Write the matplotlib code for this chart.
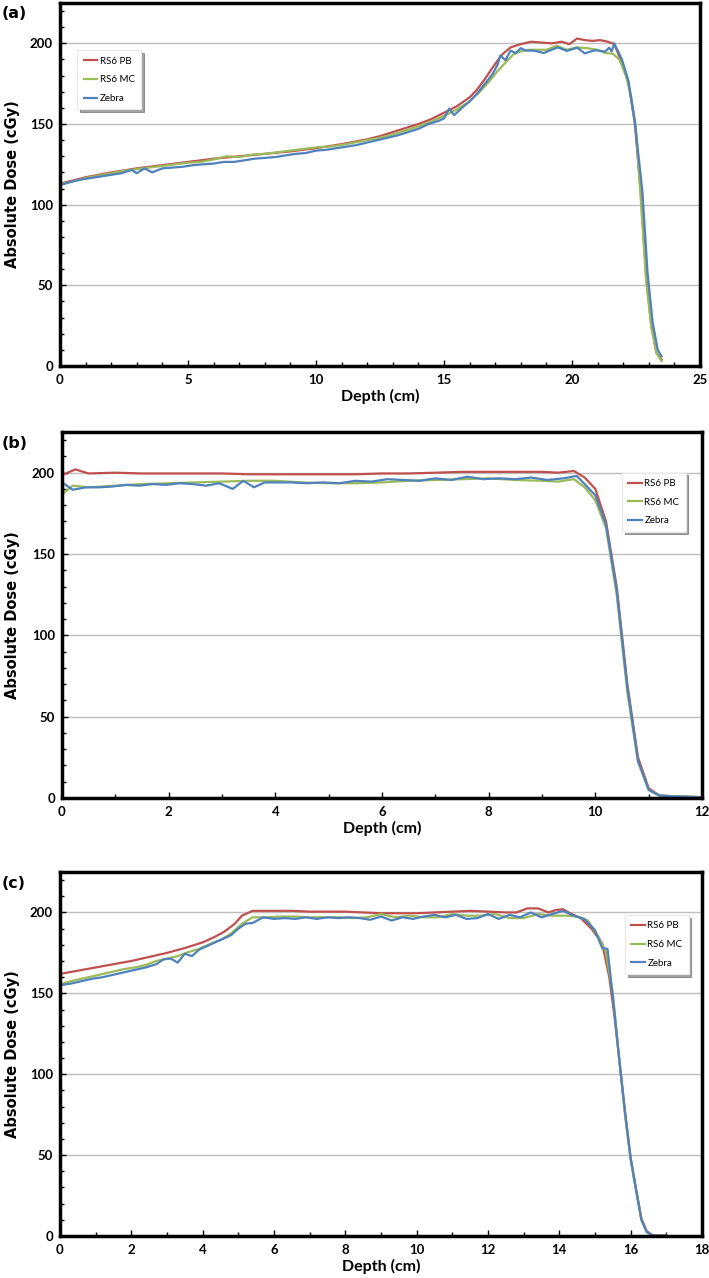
import matplotlib.pyplot as plt
from matplotlib.ticker import MultipleLocator

# ---- data: panel (a) ----
a_pb_x = [0, 1, 2, 3, 4, 5, 6, 7, 8, 9, 10, 11, 12, 12.5, 13, 13.5, 14, 14.5, 15, 15.5, 16, 16.3, 16.6, 16.9,
          17.1, 17.3, 17.6, 18.0, 18.4, 18.8, 19.2, 19.6, 19.9, 20.2, 20.5, 20.8, 21.1, 21.4, 21.65, 21.95,
          22.2, 22.45, 22.7, 22.9, 23.1, 23.3, 23.5]
a_pb_y = [113, 117, 120, 122.5, 124.5, 126.5, 128.5, 130, 131.5, 133, 135, 137.5, 140.5, 142.5, 145, 147.5,
          150, 153, 157, 161, 166.5, 171.5, 178, 185, 189.5, 193.5, 197.5, 199.5, 201, 200.5, 200, 201,
          199.5, 203, 202, 201.5, 202, 201, 199.5, 188, 176, 151, 105, 55, 25, 8, 4]
a_mc_x = [0, 0.5, 1, 1.5, 2, 2.5, 3, 3.5, 4, 4.5, 5, 5.5, 6, 6.5, 7, 7.5, 8, 8.5, 9, 9.5, 10, 10.5, 11, 11.5,
          12, 12.5, 13, 13.5, 14, 14.5, 15, 15.5, 16, 16.4, 16.8, 17.1, 17.4, 17.7, 18.0, 18.3, 18.7, 19.0,
          19.4, 19.8, 20.2, 20.6, 21.0, 21.3, 21.6, 21.85, 22.1, 22.3, 22.5, 22.7, 22.9, 23.1, 23.3, 23.5]
a_mc_y = [112.5, 114.5, 116.5, 118, 119.5, 121, 122, 123, 124, 125, 126, 126.5, 128, 130, 129.5, 131, 131.5,
          132.5, 133.5, 134.5, 135.5, 136, 137, 138.5, 140, 141.5, 143.5, 146, 148.5, 151.5, 155, 159, 164,
          170, 177, 183, 188, 193, 195, 196, 196, 196, 198.5, 196, 197.5, 197, 196, 194, 193.5, 190, 180,
          168, 147, 100, 52, 24, 8, 3]
a_zb_x = [0, 0.4, 0.8, 1.2, 1.6, 2.0, 2.4, 2.8, 3.0, 3.3, 3.6, 4.0, 4.4, 4.8, 5.2, 5.6, 6.0, 6.4, 6.8, 7.2,
          7.6, 8.0, 8.4, 8.8, 9.2, 9.6, 10.0, 10.4, 10.8, 11.2, 11.6, 12.0, 12.4, 12.8, 13.2, 13.6, 14.0,
          14.4, 14.8, 15.0, 15.2, 15.4, 15.7, 16.0, 16.3, 16.6, 16.9, 17.1, 17.2, 17.4, 17.6, 17.8, 18.0,
          18.2, 18.5, 18.9, 19.2, 19.45, 19.8, 20.2, 20.5, 20.9, 21.3, 21.45, 21.55, 21.65, 21.95, 22.2,
          22.45, 22.75, 22.95, 23.15, 23.35, 23.5]
a_zb_y = [112, 114, 115.5, 116.5, 117.5, 118.5, 119.5, 121.5, 119.5, 122.5, 120, 122.5, 123, 123.5, 124.5,
          125, 125.5, 126.5, 126.5, 127.5, 128.5, 129, 129.5, 130.5, 131.5, 132, 133.5, 134, 135, 136, 137,
          138.5, 140, 141.5, 143, 145, 147, 150, 152, 153.5, 159.5, 155.5, 160, 164, 169, 175, 181, 187,
          192.5, 189.5, 195.5, 194, 197, 195.5, 195.5, 194, 196, 197.5, 195.3, 197.3, 193.8, 195.7, 194.9,
          197.3, 195, 200, 190, 177, 152, 108, 58, 27, 10, 6]

# ---- data: panel (b) ----
b_pb_x = [0, 0.25, 0.5, 1, 1.5, 2, 2.5, 3, 3.5, 4, 4.5, 5, 5.5, 6, 6.5, 7, 7.5, 8, 8.5, 9, 9.3, 9.6, 9.8,
          10.0, 10.2, 10.4, 10.6, 10.8, 11.0, 11.2, 11.5, 12]
b_pb_y = [198.5, 202, 199.5, 200, 199.5, 199.5, 199.5, 199.5, 199, 199, 199, 199, 199, 199.5, 199.5, 200,
          200.5, 200.5, 200.5, 200.5, 200, 201, 197, 190, 170, 130, 70, 25, 6, 1.5, 1, 0.5]
b_mc_x = [0, 0.2, 0.5, 1, 1.5, 2, 2.5, 3, 3.5, 4, 4.5, 5, 5.5, 6, 6.5, 7, 7.5, 8, 8.5, 9, 9.3, 9.6, 9.8,
          10.0, 10.2, 10.4, 10.6, 10.8, 11.0, 11.2, 11.5, 12]
b_mc_y = [186.5, 192, 191, 192, 193, 193.5, 194, 194.5, 195, 195, 194, 193.5, 193.5, 194, 195, 195.5, 196,
          196.5, 195.5, 195, 194.5, 196, 191, 183, 166, 125, 65, 22, 5, 1.5, 1, 0.5]
b_zb_x = [0, 0.2, 0.45, 0.7, 0.95, 1.2, 1.45, 1.7, 1.95, 2.2, 2.45, 2.7, 2.95, 3.2, 3.4, 3.6, 3.8, 4.05,
          4.3, 4.6, 4.9, 5.2, 5.5, 5.8, 6.1, 6.4, 6.7, 7.0, 7.3, 7.6, 7.9, 8.2, 8.5, 8.8, 9.1, 9.4, 9.65,
          9.8, 10.0, 10.2, 10.4, 10.6, 10.8, 11.0, 11.2, 11.5, 12]
b_zb_y = [194, 189.5, 191, 191, 191.5, 192.5, 192, 193, 192.5, 193.5, 193, 192, 193.5, 190, 195, 191, 194,
          194, 194, 193.5, 194, 193.5, 195, 194.5, 196, 195.5, 195, 196.5, 195.5, 197.5, 196, 196.5, 196,
          197, 195.5, 196.5, 198, 193, 186, 168, 128, 68, 23, 5, 1.5, 1, 0.5]

# ---- data: panel (c) ----
c_pb_x = [0, 0.5, 1, 1.5, 2, 2.5, 3, 3.5, 4, 4.3, 4.6, 4.9, 5.1, 5.4, 5.8, 6.5, 7, 7.5, 8, 8.5, 9, 9.5, 10,
          10.5, 11, 11.5, 12, 12.5, 12.8, 13.1, 13.4, 13.7, 13.9, 14.1, 14.3, 14.6, 14.9, 15.2, 15.4, 15.55,
          15.7, 15.85, 16.0, 16.15, 16.3, 16.45, 16.6, 16.8, 17]
c_pb_y = [162, 164, 166, 168, 170, 172.5, 175, 178, 181.5, 184.5, 188, 193, 198, 201, 201, 201, 200.5, 200.5,
          200.5, 200, 199.5, 199.5, 199.5, 200, 200.5, 201, 200.5, 200, 200, 202.5, 202.5, 200, 201.5, 202,
          199.5, 196.5, 190, 181, 160, 135, 105, 75, 48, 29, 11, 3, 0.7, 0.3, 0.2]
c_mc_x = [0, 0.3, 0.6, 0.9, 1.2, 1.5, 1.8, 2.1, 2.4, 2.7, 3.0, 3.3, 3.6, 3.9, 4.2, 4.5, 4.8, 5.1, 5.4, 5.8,
          6.2, 6.6, 7.0, 7.4, 7.8, 8.2, 8.6, 9.0, 9.4, 9.8, 10.2, 10.6, 11.0, 11.4, 11.8, 12.2, 12.6, 13.0,
          13.4, 13.8, 14.2, 14.5, 14.8, 15.1, 15.3, 15.5, 15.7, 15.85, 16.0, 16.15, 16.3, 16.45, 16.6, 16.8, 17]
c_mc_y = [155.5, 157.5, 159, 160.5, 162, 163.5, 165, 166, 167.5, 170, 171.5, 173, 175.5, 177.5, 180.5, 183,
          187, 193, 197, 197, 197.5, 197.5, 197, 197, 197, 196.5, 197, 199, 197, 198, 197, 197, 199, 198, 198,
          199, 196.5, 196.5, 199, 198, 198, 197.5, 195, 185, 176, 150, 105, 73, 47, 28, 10, 2.5, 0.5, 0.2, 0.2]
c_zb_x = [0, 0.3, 0.6, 0.9, 1.2, 1.5, 1.8, 2.1, 2.4, 2.7, 2.9, 3.1, 3.3, 3.5, 3.7, 3.9, 4.2, 4.5, 4.8, 5.0,
          5.2, 5.4, 5.7, 6.0, 6.3, 6.6, 6.9, 7.2, 7.5, 7.8, 8.1, 8.4, 8.7, 9.0, 9.3, 9.6, 9.9, 10.2, 10.5,
          10.8, 11.1, 11.4, 11.7, 12.0, 12.3, 12.6, 12.9, 13.2, 13.5, 13.8, 14.1, 14.4, 14.7, 15.0, 15.2,
          15.35, 15.5, 15.7, 15.85, 16.0, 16.15, 16.3, 16.45, 16.6, 16.8, 17]
c_zb_y = [155, 156, 157.5, 159, 160, 161.5, 163, 164.5, 166, 168, 171, 171.5, 169, 174.5, 173, 177, 180, 183,
          186, 190, 193, 193.5, 197, 196, 196.5, 196, 197, 196, 197, 196.5, 197, 196.5, 195.5, 197.5, 195,
          197, 196, 197.5, 198.5, 197, 198.5, 196, 196.5, 199, 196, 198.5, 197, 200, 197, 199, 201, 198, 196,
          189, 178, 177.5, 148, 105, 75, 48, 29, 10, 2.5, 0.5, 0.2, 0.2]

labels = ['RS6 PB', 'RS6 MC', 'Zebra']
colors = ['#C0504D', '#9BBB59', '#4F81BD']

W, H = 709, 1278
fig = plt.figure(figsize=(W / 100, H / 100), dpi=100)


def px_axes(left, top, right, bottom):
    return fig.add_axes([left / W, 1 - bottom / H, (right - left) / W, (bottom - top) / H])


panels = [
    dict(box=(60, 3, 700, 366), xmax=25, xmaj=5, tag='(a)', tagy=14,
         series=[(a_pb_x, a_pb_y), (a_mc_x, a_mc_y), (a_zb_x, a_zb_y)], leg=(0.027, 0.87)),
    dict(box=(62, 432, 702, 798), xmax=12, xmaj=2, tag='(b)', tagy=443,
         series=[(b_pb_x, b_pb_y), (b_mc_x, b_mc_y), (b_zb_x, b_zb_y)], leg=(0.875, 0.889)),
    dict(box=(60, 872, 702, 1236), xmax=18, xmaj=2, tag='(c)', tagy=883,
         series=[(c_pb_x, c_pb_y), (c_mc_x, c_mc_y), (c_zb_x, c_zb_y)], leg=(0.88, 0.882)),
]

for p in panels:
    ax = px_axes(*p['box'])
    for (x, y), lab, col in zip(p['series'], labels, colors):
        ax.plot(x, y, color=col, lw=1.6, label=lab)
    ax.set_xlim(0, p['xmax'])
    ax.set_ylim(0, 225)
    ax.xaxis.set_major_locator(MultipleLocator(p['xmaj']))
    ax.xaxis.set_minor_locator(MultipleLocator(1))
    ax.yaxis.set_major_locator(MultipleLocator(50))
    ax.yaxis.set_minor_locator(MultipleLocator(10))
    ax.grid(axis='y', which='major', color='#bfbfbf', lw=1)
    ax.set_axisbelow(True)
    for s in ax.spines.values():
        s.set_linewidth(2.5)
        s.set_color('black')
    ax.tick_params(which='both', direction='in', width=1, colors='black')
    ax.tick_params(which='major', length=4, pad=5)
    ax.tick_params(axis='x', which='major', pad=6)
    ax.tick_params(which='minor', length=3)
    for t in ax.get_xticklabels() + ax.get_yticklabels():
        t.set_fontfamily('Lato')
        t.set_fontweight('bold')
        t.set_fontsize(9.5)
    ax.set_xlabel('Depth (cm)', fontfamily='Lato', fontweight='bold', fontsize=11.5, labelpad=2)
    bt = p['box']
    fig.text(13 / W, 1 - ((bt[1] + bt[3]) / 2) / H, 'Absolute Dose (cGy)', rotation=90,
             ha='center', va='center', fontweight='bold', fontsize=10.5, family='DejaVu Sans')
    fig.text(2 / W, 1 - p['tagy'] / H, p['tag'], ha='left', va='center', fontweight='bold',
             fontsize=11.5, family='DejaVu Sans')
    leg = ax.legend(loc='upper left', bbox_to_anchor=p['leg'], frameon=True, shadow=True,
                    fancybox=False, prop={'family': 'Lato', 'size': 7}, handlelength=1.4,
                    handletextpad=0.25, labelspacing=1.0, borderpad=0.65, borderaxespad=0)
    leg.get_frame().set_edgecolor('#e8e8e8')
    leg.get_frame().set_linewidth(0.8)

fig.savefig('out.png', dpi=100)
